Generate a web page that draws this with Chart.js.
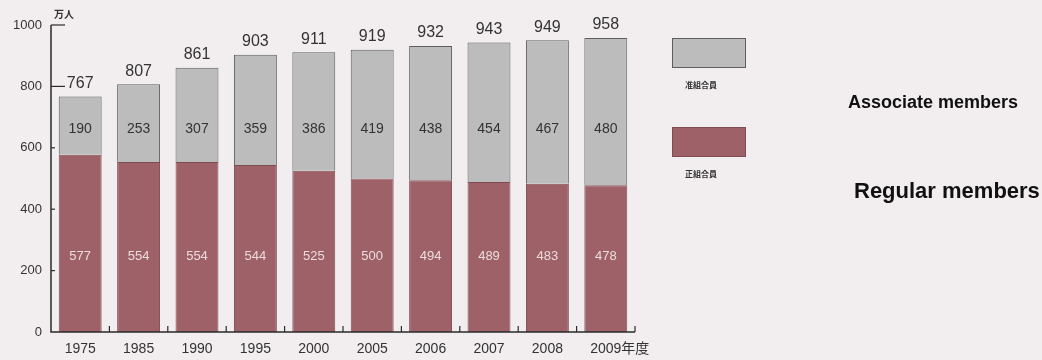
<!DOCTYPE html>
<html>
<head>
<meta charset="utf-8">
<script src="https://cdn.jsdelivr.net/npm/chart.js@4"></script>
<style>
  html, body { margin: 0; padding: 0; background: #f2eeef; }
  #wrap { width: 1042px; height: 360px; }
</style>
</head>
<body>
<div id="wrap"><canvas id="c" width="1042" height="360"></canvas></div>
<script>
// Membership by fiscal year (unit: 万人)
const categories = ['1975', '1985', '1990', '1995', '2000', '2005', '2006', '2007', '2008', '2009年度'];
const regularMembers = [577, 554, 554, 544, 525, 500, 494, 489, 483, 478];
const associateMembers = [190, 253, 307, 359, 386, 419, 438, 454, 467, 480];
const totalMembers = [767, 807, 861, 903, 911, 919, 932, 943, 949, 958];
const yTicks = [0, 200, 400, 600, 800, 1000];
const unitLabel = '万人';
const seriesNames = ['正組合員', '准組合員'];
const seriesNamesEn = ['Regular members', 'Associate members'];

const REG_COLOR = '#9e6168';
const ASSOC_COLOR = '#bcbcbc';
const INK = '#333333';

const decor = {
  id: 'decor',
  afterDatasetsDraw(chart) {
    const ctx = chart.ctx;
    const x = chart.scales.x, y = chart.scales.y;
    const area = chart.chartArea;
    const y0 = y.getPixelForValue(0);
    const yTop = y.getPixelForValue(yTicks[yTicks.length - 1]);
    ctx.save();

    // axes
    ctx.strokeStyle = '#2a2a2a';
    ctx.lineWidth = 1.5;
    ctx.beginPath();
    ctx.moveTo(area.left, yTop);
    ctx.lineTo(area.left, y0);
    ctx.lineTo(area.right, y0);
    ctx.stroke();

    // y ticks (drawn inward) and labels
    ctx.lineWidth = 1.2;
    ctx.font = '13px "Liberation Sans", Arial, sans-serif';
    ctx.fillStyle = INK;
    ctx.textAlign = 'right';
    ctx.textBaseline = 'middle';
    yTicks.forEach(v => {
      const py = y.getPixelForValue(v);
      const len = v >= 800 ? 14 : 4;
      if (v > 0) {
        ctx.beginPath();
        ctx.moveTo(area.left, py);
        ctx.lineTo(area.left + len, py);
        ctx.stroke();
      }
      ctx.fillText(String(v), area.left - 9, py);
    });

    // unit label
    ctx.textAlign = 'left';
    ctx.font = 'bold 10px "Noto Sans CJK JP", sans-serif';
    ctx.fillText(unitLabel, area.left + 3, yTop - 11);

    // x boundary ticks (upward)
    const n = categories.length;
    const step = (area.right - area.left) / n;
    ctx.lineWidth = 1.2;
    for (let i = 1; i <= n; i++) {
      const px = area.left + step * i;
      ctx.beginPath();
      ctx.moveTo(px, y0);
      ctx.lineTo(px, y0 - 6);
      ctx.stroke();
    }

    // x labels: the year is centred under the bar, any suffix trails it
    ctx.font = '14px "Liberation Sans", Arial, "Noto Sans CJK JP", sans-serif';
    ctx.textBaseline = 'middle';
    ctx.textAlign = 'left';
    categories.forEach((c, i) => {
      const cx = x.getPixelForValue(i);
      const w = ctx.measureText(c.slice(0, 4)).width;
      ctx.fillText(c, cx - w / 2, y0 + 17);
    });

    // value labels
    ctx.textAlign = 'center';
    categories.forEach((c, i) => {
      const cx = x.getPixelForValue(i);
      ctx.fillStyle = INK;
      ctx.font = '16px "Liberation Sans", Arial, sans-serif';
      ctx.fillText(String(totalMembers[i]), cx, y.getPixelForValue(totalMembers[i]) - 13);
      ctx.font = '14px "Liberation Sans", Arial, sans-serif';
      ctx.fillText(String(associateMembers[i]), cx, y.getPixelForValue(660));
      ctx.fillStyle = '#ecdcdc';
      ctx.font = '13px "Liberation Sans", Arial, sans-serif';
      ctx.fillText(String(regularMembers[i]), cx, y.getPixelForValue(245));
    });

    // legend
    const ds = chart.data.datasets;
    const legendItems = [
      { ds: ds[1], top: 38 },
      { ds: ds[0], top: 127 }
    ];
    legendItems.forEach(it => {
      ctx.fillStyle = it.ds.backgroundColor;
      ctx.fillRect(672, it.top, 74, 30);
      ctx.strokeStyle = it.ds.borderColor;
      ctx.lineWidth = 1;
      ctx.strokeRect(672.5, it.top + 0.5, 73, 29);
      ctx.fillStyle = '#333';
      ctx.font = 'bold 8px "Noto Sans CJK JP", sans-serif';
      ctx.textAlign = 'left';
      ctx.fillText(it.ds.label, 685, it.top + 47);
    });

    // English captions
    ctx.fillStyle = '#111';
    ctx.textAlign = 'left';
    ctx.font = 'bold 18px "Liberation Sans", Arial, sans-serif';
    ctx.fillText(seriesNamesEn[1], 848, 103);
    ctx.font = 'bold 22px "Liberation Sans", Arial, sans-serif';
    ctx.fillText(seriesNamesEn[0], 854, 192);

    ctx.restore();
  }
};

new Chart(document.getElementById('c'), {
  type: 'bar',
  data: {
    labels: categories,
    datasets: [
      {
        label: seriesNames[0],
        data: regularMembers,
        backgroundColor: REG_COLOR,
        borderColor: '#7d4c52',
        borderWidth: 1
      },
      {
        label: seriesNames[1],
        data: associateMembers,
        backgroundColor: ASSOC_COLOR,
        borderColor: '#5e5e5e',
        borderWidth: 1
      }
    ]
  },
  options: {
    responsive: false,
    animation: false,
    devicePixelRatio: 1,
    layout: { padding: { left: 51, right: 407, top: 25, bottom: 28 } },
    datasets: { bar: { categoryPercentage: 1, barPercentage: 0.735 } },
    scales: {
      x: { stacked: true, display: false },
      y: { stacked: true, display: false, min: 0, max: 1000 }
    },
    plugins: { legend: { display: false }, tooltip: { enabled: false } }
  },
  plugins: [decor]
});
</script>
</body>
</html>
